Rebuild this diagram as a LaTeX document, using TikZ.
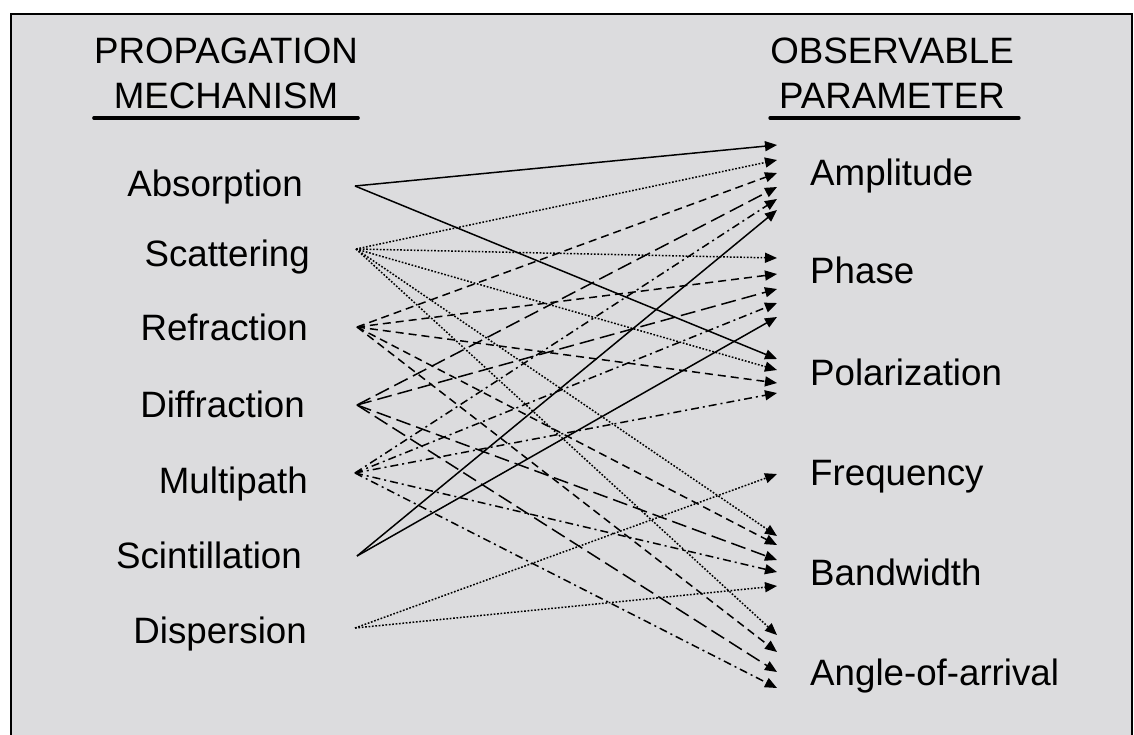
\documentclass[tikz,border=0pt]{standalone}
\usepackage{fontspec}
\setmainfont{Liberation Sans}
\usepackage{xcolor}
\usetikzlibrary{arrows.meta}
\definecolor{panelgray}{HTML}{DCDCDE}

\begin{document}
\begin{tikzpicture}[x=1pt,y=-1pt,
  mech/.style={anchor=base east,inner sep=0pt,font=\fontsize{36.7}{44}\selectfont},
  param/.style={anchor=base west,inner sep=0pt,font=\fontsize{36.7}{44}\selectfont},
  hdr/.style={anchor=south,inner sep=0pt,align=center,font=\fontsize{36.7}{45}\selectfont},
  rule/.style={line width=3.5pt,line cap=round},
  arr/.style={-{Triangle[length=12pt,width=10pt]},line width=1.5pt},
  solidarr/.style={arr},
  dotarr/.style={arr,dash pattern=on 1.7pt off 1.7pt},
  dasharr/.style={arr,dash pattern=on 8pt off 5pt},
  longarr/.style={arr,dash pattern=on 15pt off 6pt},
  dashdotarr/.style={arr,dash pattern=on 8pt off 4pt on 2pt off 4pt}
]
\useasboundingbox (0,0) rectangle (1134,734);
\fill[white] (0,0) rectangle (1134,734);
\draw[line width=2.5pt,fill=panelgray] (11,14) rectangle (1132,770);

% headings
\node[hdr] (mechhdr) at (226,109) {PROPAGATION\\MECHANISM};
\node[hdr] (paramhdr) at (892,109) {OBSERVABLE\\PARAMETER};
\draw[rule] ([yshift=-9pt]mechhdr.south west) -- ([yshift=-9pt]mechhdr.south east);
\draw[rule] ([yshift=-9pt]paramhdr.south west) -- ([xshift=5pt,yshift=-9pt]paramhdr.south east);

% mechanisms
\node[mech] (absorp)  at (303,196) {Absorption};
\node[mech] (scatt)   at (310,266) {Scattering};
\node[mech] (refrac)  at (308,340) {Refraction};
\node[mech] (diffrac) at (305,417) {Diffraction};
\node[mech] (multi)   at (308,493) {Multipath};
\node[mech] (scint)   at (302,568) {Scintillation};
\node[mech] (disper)  at (307,643) {Dispersion};

% parameters
\node[param] (ampl)  at (810,185) {Amplitude};
\node[param] (phase) at (810,283) {Phase};
\node[param] (polar) at (810,385) {Polarization};
\node[param] (freq)  at (810,485) {Frequency};
\node[param] (bandw) at (810,585) {Bandwidth};
\node[param] (aoa)   at (810,685) {Angle-of-arrival};

% fan points
\coordinate (absorpfan)  at (355,186);
\coordinate (scattfan)   at (356,249);
\coordinate (refracfan)  at (357,327);
\coordinate (diffracfan) at (357,405);
\coordinate (multifan)   at (355,473);
\coordinate (scintfan)   at (357,556);
\coordinate (disperfan)  at (355,628);

% arrow tips
\foreach \tip/\ty in {amp1/145,amp2/160,amp3/173,amp4/187,amp5/199,amp6/210,
    pha1/258,pha2/274,pha3/289,pha4/303,pha5/317,
    pol1/359,pol2/370,pol3/383,pol4/393,
    frq1/474,
    bw1/536,bw2/545,bw3/560,bw4/572,bw5/586,
    aoa1/635,aoa2/652,aoa3/672,aoa4/688}
  \coordinate (\tip) at (777,\ty);

\foreach \t in {amp1,pol1}
  \draw[solidarr] (absorpfan) -- (\t);
\foreach \t in {amp2,pha1,pol2,bw1,aoa1}
  \draw[dotarr] (scattfan) -- (\t);
\foreach \t in {amp3,pha2,pol3,bw2,aoa2}
  \draw[dasharr] (refracfan) -- (\t);
\foreach \t in {amp4,pha3,bw3,aoa3}
  \draw[longarr] (diffracfan) -- (\t);
\foreach \t in {amp5,pha4,pol4,bw4,aoa4}
  \draw[dashdotarr] (multifan) -- (\t);
\foreach \t in {amp6,pha5}
  \draw[solidarr] (scintfan) -- (\t);
\foreach \t in {frq1,bw5}
  \draw[dotarr] (disperfan) -- (\t);
\end{tikzpicture}
\end{document}
